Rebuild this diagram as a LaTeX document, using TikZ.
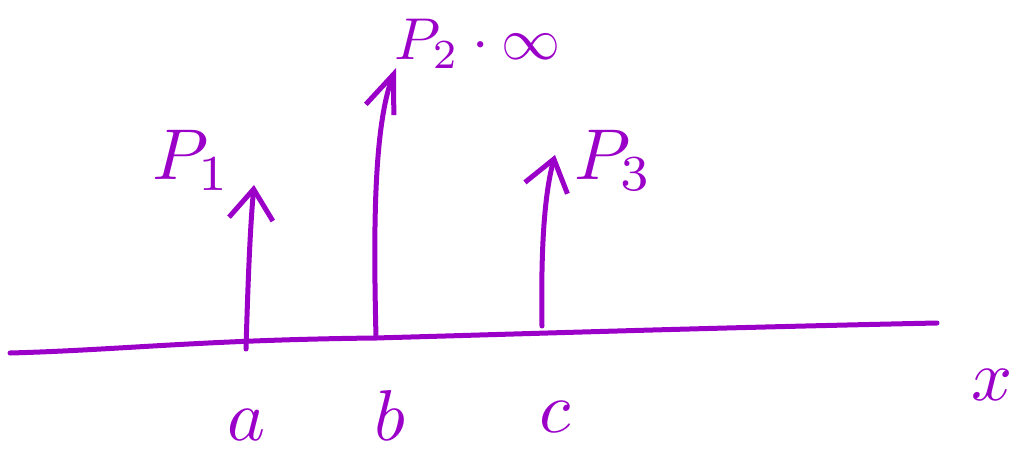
\documentclass[tikz,border=0pt]{standalone}
\usetikzlibrary{arrows.meta}
\definecolor{ink}{RGB}{155,0,200}
\begin{document}
\begin{tikzpicture}[x=1pt,y=-1pt,
  pen/.style={draw=ink,line width=5pt,line cap=round,line join=round},
  force/.style={pen,-{Straight Barb[length=30pt,width=44pt,line width=5pt]}},
  lbl/.style={text=ink,scale=7.2,inner sep=0pt}]
\useasboundingbox (0,0) rectangle (1020,453);
% axis
\coordinate (x0) at (10,353);
\coordinate (x1) at (937,323);
\draw[pen] (x0) .. controls (120,350) and (200,340) .. (375,338)
  .. controls (520,334) and (700,328) .. (x1);
% arrows
\coordinate (a0) at (246,349);
\coordinate (a1) at (254,185);
\coordinate (b0) at (376,338);
\coordinate (b1) at (396,68);
\coordinate (c0) at (542,326);
\coordinate (c1) at (555,155);
\draw[force] (a0) .. controls (248,280) and (250,230) .. (a1);
\draw[force,-{Straight Barb[length=38pt,width=30pt,line width=5pt]}] (b0) .. controls (374,250) and (372,130) .. (b1);
\draw[force] (c0) .. controls (541,260) and (543,200) .. (c1);
% labels
\node[lbl] (p1) at (192,160) {$P_1$};
\node[lbl,scale=0.82] (p2) at (478,44) {$P_2\cdot\infty$};
\node[lbl] (p3) at (614,160) {$P_3$};
\node[lbl] (la) at (247,425) {$a$};
\node[lbl] (lb) at (390,415) {$b$};
\node[lbl] (lc) at (555,417) {$c$};
\node[lbl] (lx) at (992,385) {$x$};
\end{tikzpicture}
\end{document}
